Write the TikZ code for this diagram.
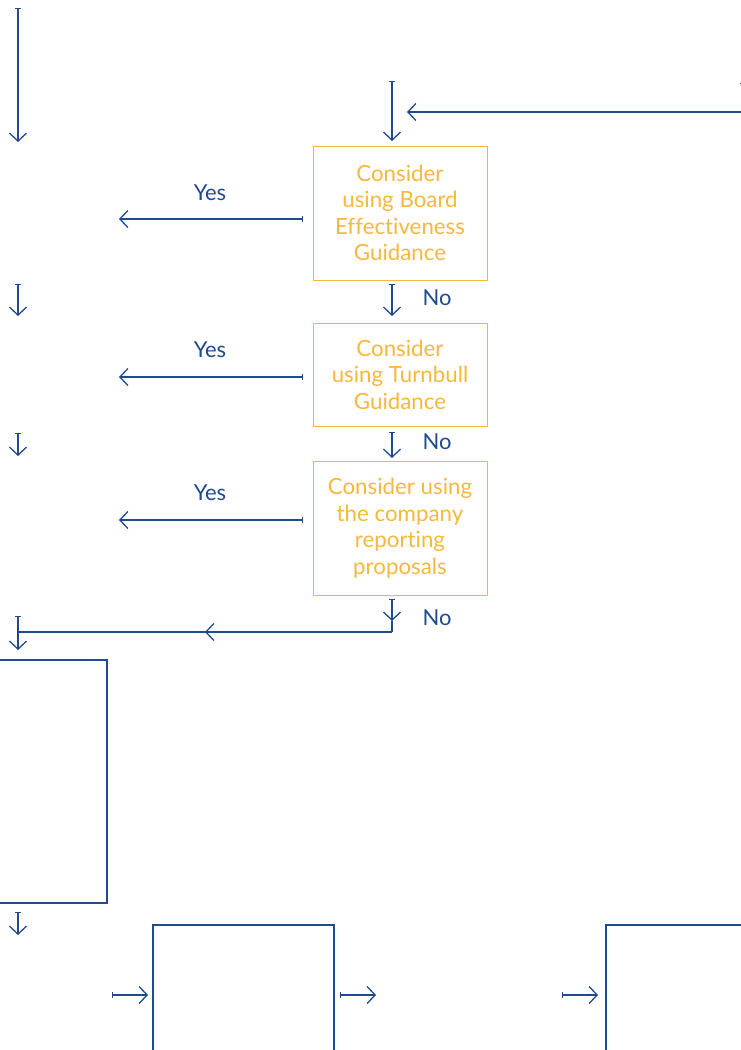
\documentclass[tikz,border=0pt]{standalone}
\usepackage{fontspec}
\setmainfont[Ligatures={NoCommon,NoRare}]{Lato}
\usetikzlibrary{arrows.meta,decorations.markings}
\definecolor{navy}{HTML}{1F4A8C}
\definecolor{gold}{HTML}{F5B83D}
\begin{document}
\begin{tikzpicture}[x=1pt,y=-1pt,
  flow/.style={draw=navy, line width=1.5pt,
    {Bar[width=6pt,line width=1.3pt]}-{Straight Barb[length=8pt,width=17pt,line width=1.3pt]}},
  plainflow/.style={draw=navy, line width=1.5pt},
  midarrow/.style={postaction={decorate}, decoration={markings,
    mark=at position #1 with {\arrow{Straight Barb[length=8pt,width=17pt,line width=1.3pt]}}}},
  gbox/.style={draw=gold, line width=1pt, text=gold, align=center, inner sep=0pt,
    minimum width=174pt, font=\fontsize{22.3}{26.5}\selectfont},
  nbox/.style={draw=navy, line width=1.3pt, inner sep=0pt},
  lbl/.style={text=navy, font=\fontsize{22}{24}\selectfont, inner sep=0pt}
]
\useasboundingbox (0,0) rectangle (741,1050);

% decision boxes
\node[gbox, minimum height=134pt] (b1) at (400,213) {Consider\\using Board\\Effectiveness\\Guidance};
\node[gbox, minimum height=103pt] (b2) at (400,374.5) {Consider\\using Turnbull\\Guidance};
\node[gbox, minimum height=134pt] (b3) at (400,528) {Consider using\\the company\\reporting\\proposals};

% navy boxes (partly outside the view)
\node[nbox, minimum width=117pt, minimum height=243pt] (n1) at (48.5,781.5) {};
\node[nbox, minimum width=181pt, minimum height=160pt] (n2) at (243.5,1005) {};
\node[nbox, minimum width=181pt, minimum height=160pt] (n3) at (696.5,1005) {};

% labels
\node[lbl] (y1) at (210,193) {Yes};
\node[lbl] (y2) at (210,350) {Yes};
\node[lbl] (y3) at (210,493) {Yes};
\node[lbl] (no1) at (437,298) {No};
\node[lbl] (no2) at (437,442) {No};
\node[lbl] (no3) at (437,618) {No};

% coordinates
\coordinate (tl0) at (18,8);   \coordinate (tl1) at (18,142);
\coordinate (t0) at (392,81);  \coordinate (t1) at (392,141);
\coordinate (r0) at (743,83);  \coordinate (r1) at (743,112); \coordinate (r2) at (407,112);
\coordinate (ya1) at (303,219); \coordinate (yb1) at (119,219);
\coordinate (ya2) at (303,377); \coordinate (yb2) at (119,377);
\coordinate (ya3) at (303,520); \coordinate (yb3) at (119,520);
\coordinate (na1) at (392,284); \coordinate (nb1) at (392,316);
\coordinate (na2) at (392,432); \coordinate (nb2) at (392,458);
\coordinate (na3) at (392,599); \coordinate (nb3) at (392,621);
\coordinate (m1) at (392,632); \coordinate (m2) at (18,632);
\coordinate (la1) at (18,284); \coordinate (lb1) at (18,316);
\coordinate (la2) at (18,433); \coordinate (lb2) at (18,456);
\coordinate (la3) at (18,616); \coordinate (lb3) at (18,650);
\coordinate (la4) at (18,912); \coordinate (lb4) at (18,935);
\coordinate (h1a) at (112,995); \coordinate (h1b) at (148,995);
\coordinate (h2a) at (340,995); \coordinate (h2b) at (376,995);
\coordinate (h3a) at (562,995); \coordinate (h3b) at (598,995);

% connectors
\draw[flow] (tl0) -- (tl1);
\draw[flow] (t0) -- (t1);
\draw[plainflow, {Bar[width=6pt,line width=1.3pt]}-] (r0) -- (r1);
\draw[flow, -{Straight Barb[length=8pt,width=17pt,line width=1.3pt]}] (r1) -- (r2);
\draw[flow] (ya1) -- (yb1);
\draw[flow] (ya2) -- (yb2);
\draw[flow] (ya3) -- (yb3);
\draw[flow] (na1) -- (nb1);
\draw[flow] (na2) -- (nb2);
\draw[flow] (na3) -- (nb3);
\draw[plainflow] (nb3) -- (m1);
\draw[plainflow, midarrow=0.5] (m1) -- (m2);
\draw[flow] (la1) -- (lb1);
\draw[flow] (la2) -- (lb2);
\draw[flow] (la3) -- (lb3);
\draw[flow] (la4) -- (lb4);
\draw[flow] (h1a) -- (h1b);
\draw[flow] (h2a) -- (h2b);
\draw[flow] (h3a) -- (h3b);
\end{tikzpicture}
\end{document}
